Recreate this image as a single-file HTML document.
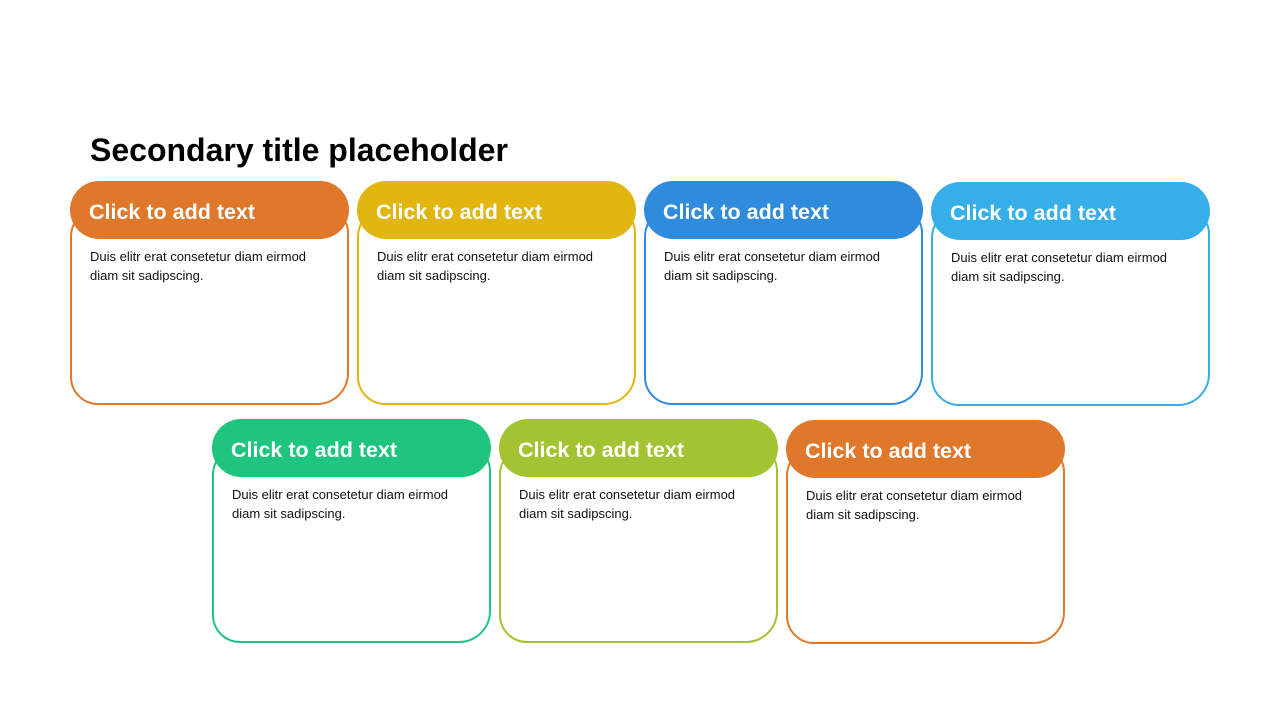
<!DOCTYPE html>
<html><head><meta charset="utf-8"><style>
body{margin:0;width:1280px;height:720px;background:#fff;position:relative;font-family:"Liberation Sans",Arial,sans-serif;overflow:hidden}
h1{position:absolute;left:90px;top:132px;margin:0;font-size:32px;font-weight:bold;color:#000}
.c{position:absolute;width:279px;height:225px}
.b{position:absolute;left:0;top:26px;width:279px;height:198px;border:2px solid;border-radius:30px 26px 32px 28px;box-sizing:border-box}
.h{position:absolute;left:0;top:0;width:279px;height:58px;border-radius:29px;color:#fff;font-weight:bold;font-size:21.5px;line-height:62px;padding-left:19px;box-sizing:border-box}
.t{position:absolute;left:20px;top:66px;font-size:13px;line-height:19px;color:#111}
</style></head><body>
<h1>Secondary title placeholder</h1>
<div class="c" style="left:70px;top:181px"><div class="b" style="border-color:#e0782c"></div><div class="h" style="background:#e0782c">Click to add text</div><div class="t">Duis elitr erat consetetur diam eirmod<br>diam sit sadipscing.</div></div>
<div class="c" style="left:357px;top:181px"><div class="b" style="border-color:#e1b610"></div><div class="h" style="background:#e1b610">Click to add text</div><div class="t">Duis elitr erat consetetur diam eirmod<br>diam sit sadipscing.</div></div>
<div class="c" style="left:644px;top:181px"><div class="b" style="border-color:#2f8cdc"></div><div class="h" style="background:#2f8cdc">Click to add text</div><div class="t">Duis elitr erat consetetur diam eirmod<br>diam sit sadipscing.</div></div>
<div class="c" style="left:931px;top:182px"><div class="b" style="border-color:#36aee8"></div><div class="h" style="background:#36aee8">Click to add text</div><div class="t">Duis elitr erat consetetur diam eirmod<br>diam sit sadipscing.</div></div>
<div class="c" style="left:212px;top:419px"><div class="b" style="border-color:#1fc57e"></div><div class="h" style="background:#1fc57e">Click to add text</div><div class="t">Duis elitr erat consetetur diam eirmod<br>diam sit sadipscing.</div></div>
<div class="c" style="left:499px;top:419px"><div class="b" style="border-color:#a2c432"></div><div class="h" style="background:#a2c432">Click to add text</div><div class="t">Duis elitr erat consetetur diam eirmod<br>diam sit sadipscing.</div></div>
<div class="c" style="left:786px;top:420px"><div class="b" style="border-color:#e0782c"></div><div class="h" style="background:#e0782c">Click to add text</div><div class="t">Duis elitr erat consetetur diam eirmod<br>diam sit sadipscing.</div></div>
</body></html>
